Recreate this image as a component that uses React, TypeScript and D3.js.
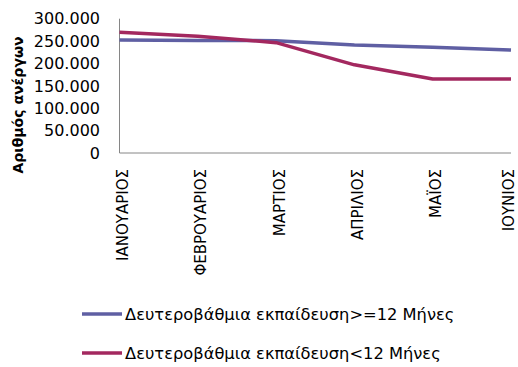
import React from "react";
import * as d3 from "d3";

const months = ["ΙΑΝΟΥΑΡΙΟΣ", "ΦΕΒΡΟΥΑΡΙΟΣ", "ΜΑΡΤΙΟΣ", "ΑΠΡΙΛΙΟΣ", "ΜΑΪΟΣ", "ΙΟΥΝΙΟΣ"];
const seriesLong = [252500, 251500, 251000, 241000, 236000, 230000];
const seriesShort = [269500, 261000, 246500, 197000, 165500, 165500];
const seriesNames = [
  "Δευτεροβάθμια εκπαίδευση>=12 Μήνες",
  "Δευτεροβάθμια εκπαίδευση<12 Μήνες",
];
const seriesColors = ["#5f5fa3", "#a3285f"];
const yTicks = [0, 50000, 100000, 150000, 200000, 250000, 300000];

export default function App() {
  const W = 518, H = 367;
  const left = 119.5, right = 511, top = 18.7, bottom = 153;
  const x = d3.scalePoint<string>().domain(months).range([left, right]);
  const y = d3.scaleLinear().domain([0, 300000]).range([bottom, top]);
  const fmt = (v: number) => (v === 0 ? "0" : d3.format(",")(v).replace(/,/g, "."));
  const line = d3
    .line<number>()
    .x((_, i) => x(months[i]) as number)
    .y((d) => y(d));
  const data = [seriesLong, seriesShort];
  const font = "'DejaVu Sans', sans-serif";
  return (
    <svg
      width={W}
      height={H}
      style={{ position: "absolute", left: 0, top: 0, background: "#fff" }}
      fontFamily={font}
    >
      <line x1={left} x2={left} y1={top} y2={bottom} stroke="#868686" strokeWidth={1} />
      <line x1={left} x2={right} y1={bottom} y2={bottom} stroke="#868686" strokeWidth={1} />
      {yTicks.map((t) => (
        <text key={t} x={100} y={y(t)} dy="0.36em" textAnchor="end" fontSize={16} fill="#000">
          {fmt(t)}
        </text>
      ))}
      {months.map((m) => (
        <text
          key={m}
          transform={`translate(${Math.min((x(m) as number) + 8.5, 513.5)},169) rotate(-90)`}
          textAnchor="end"
          fontSize={15}
          fill="#000"
        >
          {m}
        </text>
      ))}
      <text
        transform="translate(23,105) rotate(-90)"
        textAnchor="middle"
        fontSize={14}
        fontWeight="bold"
        fill="#000"
      >
        Αριθμός ανέργων
      </text>
      {data.map((s, i) => (
        <path
          key={i}
          d={line(s) || ""}
          fill="none"
          stroke={seriesColors[i]}
          strokeWidth={3.5}
          strokeLinejoin="round"
        />
      ))}
      {seriesNames.map((n, i) => {
        const ly = 314 + i * 39;
        return (
          <g key={n}>
            <line x1={82} x2={122} y1={ly} y2={ly} stroke={seriesColors[i]} strokeWidth={3.5} />
            <text x={125} y={ly} dy="0.36em" fontSize={16.3} fill="#000">
              {n}
            </text>
          </g>
        );
      })}
    </svg>
  );
}
